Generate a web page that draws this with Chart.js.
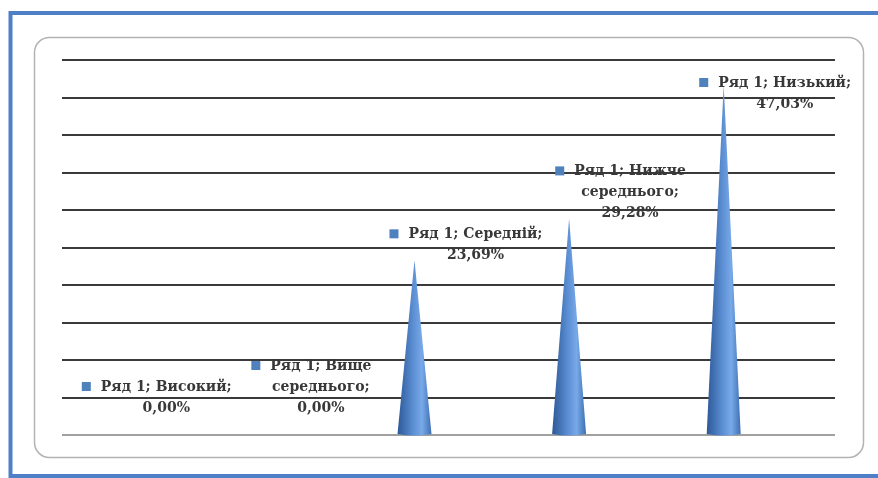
<!DOCTYPE html>
<html>
<head>
<meta charset="utf-8">
<script src="https://cdn.jsdelivr.net/npm/chart.js@4"></script>
<style>
  html, body { margin: 0; padding: 0; background: #fff; }
  #wrap { width: 878px; height: 478px; }
</style>
</head>
<body>
<div id="wrap"><canvas id="coneChart" width="878" height="478"></canvas></div>
<script>
// дані діаграми
const seriesName = 'Ряд 1';
const categories = ['Високий', 'Вище середнього', 'Середній', 'Нижче середнього', 'Низький'];
const values = [0, 0, 23.69, 29.28, 47.03];
const yMin = 0;
const yMax = 50;
const yStep = 5;

const LABEL_FONT = 'bold 14px "DejaVu Serif", serif';
const LABEL_COLOR = '#383838';
const MARKER_COLOR = '#4f81bd';

// рамки навколо діаграми
const framePlugin = {
    id: 'frame',
    beforeDraw(chart) {
        const ctx = chart.ctx;
        ctx.save();
        ctx.fillStyle = '#fff';
        ctx.fillRect(0, 0, chart.width, chart.height);
        // синя зовнішня рамка
        ctx.strokeStyle = '#4f7fc6';
        ctx.lineWidth = 4;
        ctx.strokeRect(10.5, 13, 880, 463);
        // сіра заокруглена рамка
        ctx.strokeStyle = '#b3b3b3';
        ctx.lineWidth = 1.5;
        ctx.beginPath();
        ctx.roundRect(34.5, 37.5, 829, 420, 15);
        ctx.stroke();
        ctx.restore();
    }
};

// конуси замість прямокутників + підписи даних
const conePlugin = {
    id: 'cones',
    afterDatasetsDraw(chart) {
        const ctx = chart.ctx;
        const meta = chart.getDatasetMeta(0);
        const depth = -34;      // зсув через 3D-перспективу
        const halfBase = 17;

        ctx.save();
        meta.data.forEach((bar, i) => {
            if (values[i] <= 0) return;
            const cx = bar.x + depth;
            const tipY = bar.y + 3;
            const baseY = bar.base;
            const grad = ctx.createLinearGradient(cx - halfBase, 0, cx + halfBase, 0);
            grad.addColorStop(0, '#2c5897');
            grad.addColorStop(0.45, '#5a8dd2');
            grad.addColorStop(0.72, '#78a9e8');
            grad.addColorStop(1, '#3e6fb3');
            ctx.fillStyle = grad;
            ctx.beginPath();
            ctx.moveTo(cx, tipY);
            ctx.lineTo(cx + halfBase, baseY);
            ctx.quadraticCurveTo(cx, baseY + 3, cx - halfBase, baseY);
            ctx.closePath();
            ctx.fill();
        });

        // підписи
        ctx.font = LABEL_FONT;
        ctx.textBaseline = 'middle';
        ctx.textAlign = 'center';
        const maxW = 140;
        const lineH = 21;
        meta.data.forEach((bar, i) => {
            const valText = values[i].toFixed(2).replace('.', ',') + '%';
            const words = (seriesName + '; ' + categories[i] + '; ' + valText).split(' ');
            const lines = [];
            let cur = '';
            words.forEach(w => {
                const test = cur ? cur + ' ' + w : w;
                if (cur && ctx.measureText(test).width > maxW) {
                    lines.push(cur);
                    cur = w;
                } else {
                    cur = test;
                }
            });
            if (cur) lines.push(cur);

            const cx = bar.x + 27;
            let lastY = Math.min(bar.y - 2, bar.base - 27);
            let firstY = lastY - (lines.length - 1) * lineH;
            const topLimit = chart.chartArea.top + 23;
            if (firstY < topLimit) {
                firstY = topLimit;
            }
            lines.forEach((ln, k) => {
                const y = firstY + k * lineH;
                ctx.fillStyle = LABEL_COLOR;
                ctx.fillText(ln, cx, y);
                if (k === 0) {
                    const w = ctx.measureText(ln).width;
                    ctx.fillStyle = MARKER_COLOR;
                    ctx.fillRect(cx - w / 2 - 19, y - 5, 9, 9);
                }
            });
        });
        ctx.restore();
    }
};

new Chart(document.getElementById('coneChart'), {
    type: 'bar',
    data: {
        labels: categories,
        datasets: [{
            label: seriesName,
            data: values,
            backgroundColor: 'rgba(0,0,0,0)',
            borderWidth: 0
        }]
    },
    options: {
        responsive: false,
        animation: false,
        layout: { padding: { left: 62, right: 43, top: 60, bottom: 35 } },
        plugins: {
            legend: { display: false },
            tooltip: { enabled: false }
        },
        scales: {
            x: {
                grid: { display: false },
                ticks: { display: false },
                border: { display: false }
            },
            y: {
                min: yMin,
                max: yMax,
                ticks: { display: false, stepSize: yStep },
                grid: {
                    color: c => c.tick.value === 0 ? '#a0a0a0' : '#3a3a3a',
                    lineWidth: 2,
                    drawTicks: false
                },
                border: { display: false }
            }
        }
    },
    plugins: [framePlugin, conePlugin]
});
</script>
</body>
</html>
